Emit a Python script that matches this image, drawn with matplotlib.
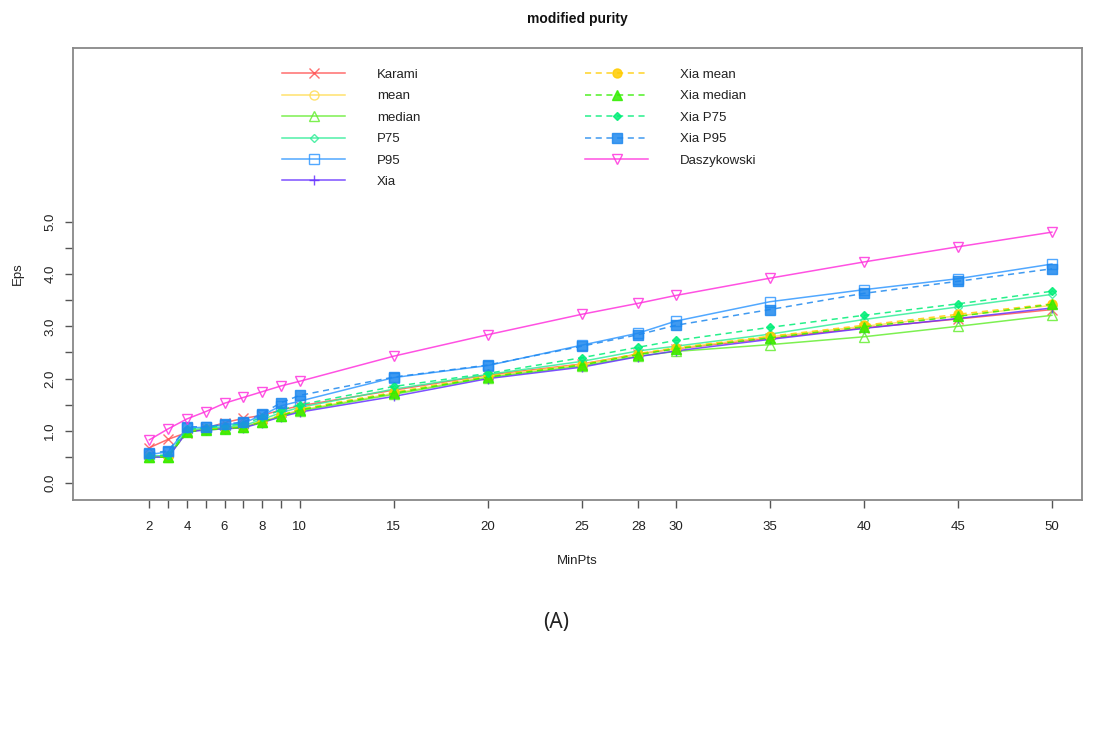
import numpy as np
import matplotlib.pyplot as plt
from matplotlib.lines import Line2D

plt.rcParams['font.family'] = ['Liberation Sans', 'DejaVu Sans']

# MinPts values tested
minpts = [2, 3, 4, 5, 6, 7, 8, 9, 10, 15, 20, 25, 28, 30, 35, 40, 45, 50]
tick_labels = ['2', '', '4', '', '6', '', '8', '', '10', '15', '20',
               '25', '28', '30', '35', '40', '45', '50']

# Eps chosen by each method
karami = [0.68, 0.84, 0.97, 1.05, 1.16, 1.24, 1.30, 1.40, 1.48, 1.78, 2.07,
          2.28, 2.47, 2.57, 2.77, 2.97, 3.14, 3.32]
mean_eps = [0.52, 0.52, 1.00, 1.04, 1.06, 1.08, 1.18, 1.30, 1.40, 1.72, 2.04,
            2.27, 2.47, 2.58, 2.80, 3.00, 3.20, 3.40]
median_eps = [0.50, 0.50, 0.99, 1.03, 1.05, 1.07, 1.17, 1.28, 1.38, 1.70, 2.02,
              2.24, 2.43, 2.52, 2.65, 2.80, 3.00, 3.21]
p75 = [0.52, 0.53, 1.02, 1.05, 1.08, 1.10, 1.22, 1.35, 1.45, 1.80, 2.08,
       2.33, 2.53, 2.62, 2.85, 3.13, 3.37, 3.61]
p95 = [0.55, 0.60, 1.06, 1.07, 1.12, 1.15, 1.30, 1.48, 1.57, 2.02, 2.25,
       2.64, 2.87, 3.10, 3.47, 3.70, 3.91, 4.19]
xia = [0.50, 0.50, 0.98, 1.02, 1.04, 1.06, 1.16, 1.27, 1.36, 1.66, 2.00,
       2.22, 2.42, 2.53, 2.75, 2.96, 3.15, 3.35]
xia_mean = [0.51, 0.51, 1.00, 1.03, 1.05, 1.08, 1.18, 1.30, 1.42, 1.74, 2.05,
            2.27, 2.48, 2.59, 2.81, 3.02, 3.23, 3.43]
xia_median = [0.50, 0.50, 0.98, 1.02, 1.04, 1.07, 1.17, 1.29, 1.40, 1.72, 2.03,
              2.26, 2.46, 2.57, 2.78, 2.99, 3.19, 3.42]
xia_p75 = [0.53, 0.54, 1.03, 1.06, 1.10, 1.13, 1.26, 1.40, 1.50, 1.85, 2.10,
           2.40, 2.60, 2.73, 2.98, 3.21, 3.43, 3.67]
xia_p95 = [0.57, 0.62, 1.08, 1.08, 1.13, 1.17, 1.33, 1.54, 1.68, 2.03, 2.26,
           2.62, 2.84, 3.02, 3.32, 3.63, 3.86, 4.10]
daszykowski = [0.83, 1.04, 1.23, 1.37, 1.53, 1.64, 1.75, 1.86, 1.95, 2.43, 2.84,
               3.23, 3.44, 3.59, 3.92, 4.23, 4.52, 4.80]

# (label, values, colour, linestyle, marker, filled)
series = [
    ('Karami', karami, '#ff5555', '-', 'x', False),
    ('mean', mean_eps, '#ffdd55', '-', 'o', False),
    ('median', median_eps, '#66ee33', '-', '^', False),
    ('P75', p75, '#33ee99', '-', 'D', False),
    ('P95', p95, '#3399ff', '-', 's', False),
    ('Xia', xia, '#6633ff', '-', '+', False),
    ('Xia mean', xia_mean, '#ffcc00', '--', 'o', True),
    ('Xia median', xia_median, '#33ee00', '--', '^', True),
    ('Xia P75', xia_p75, '#00ee77', '--', 'D', True),
    ('Xia P95', xia_p95, '#1e88ee', '--', 's', True),
    ('Daszykowski', daszykowski, '#ff33dd', '-', 'v', False),
]

fig = plt.figure(figsize=(10.96, 7.51), dpi=100)
ax = fig.add_axes([0.0666, 0.3342, 0.9206, 0.6019])

handles = []
for label, vals, col, ls, mk, filled in series:
    size = 4.5 if mk == 'D' else 6.5
    kw = dict(color=col, linestyle=ls, linewidth=1.1, marker=mk,
              markersize=size, alpha=0.85,
              markerfacecolor=col if filled else 'none',
              markeredgecolor=col, markeredgewidth=1.0)
    if ls == '--':
        kw['dashes'] = (4, 3)
    ax.plot(minpts, vals, **kw)
    handles.append(Line2D([], [], label=label, **kw))

ax.set_xlim(-2.06, 51.6)
ax.set_ylim(-0.32, 8.32)

ax.set_xticks(minpts)
ax.set_xticklabels(tick_labels)
yt = np.arange(0, 5.01, 0.5)
ax.set_yticks(yt)
ax.set_yticklabels(['%.1f' % v if abs(v - round(v)) < 1e-6 else '' for v in yt],
                   rotation=90, va='center')
ax.tick_params(axis='both', length=6, width=1, color='#555555',
               labelsize=9.5, labelcolor='#222222')
ax.tick_params(axis='x', pad=9)
ax.tick_params(axis='y', pad=6)
for sp in ax.spines.values():
    sp.set_color('#888888')
    sp.set_linewidth(1.3)

ax.set_xlabel('MinPts', fontsize=9.5, color='#222222', labelpad=16)
ax.set_ylabel('Eps', fontsize=9.5, color='#222222', labelpad=15)
fig.text(0.527, 0.975, 'modified purity', ha='center', va='center',
         fontsize=10, fontweight='bold', color='#111111')

leg_kw = dict(frameon=False, loc='upper left', borderpad=0, borderaxespad=0,
              handlelength=4.8, handletextpad=2.4, labelspacing=0.7,
              fontsize=9.5, labelcolor='#222222')
fig.legend(handles=handles[:6], bbox_to_anchor=(0.2573, 0.9088), **leg_kw)
fig.legend(handles=handles[6:], bbox_to_anchor=(0.5338, 0.9088), **leg_kw)

fig.text(0.507, 0.171, '(A)', ha='center', va='center', fontsize=15,
         family=['Noto Sans', 'DejaVu Sans'], color='#222222')

fig.savefig('out.png', dpi=100)
